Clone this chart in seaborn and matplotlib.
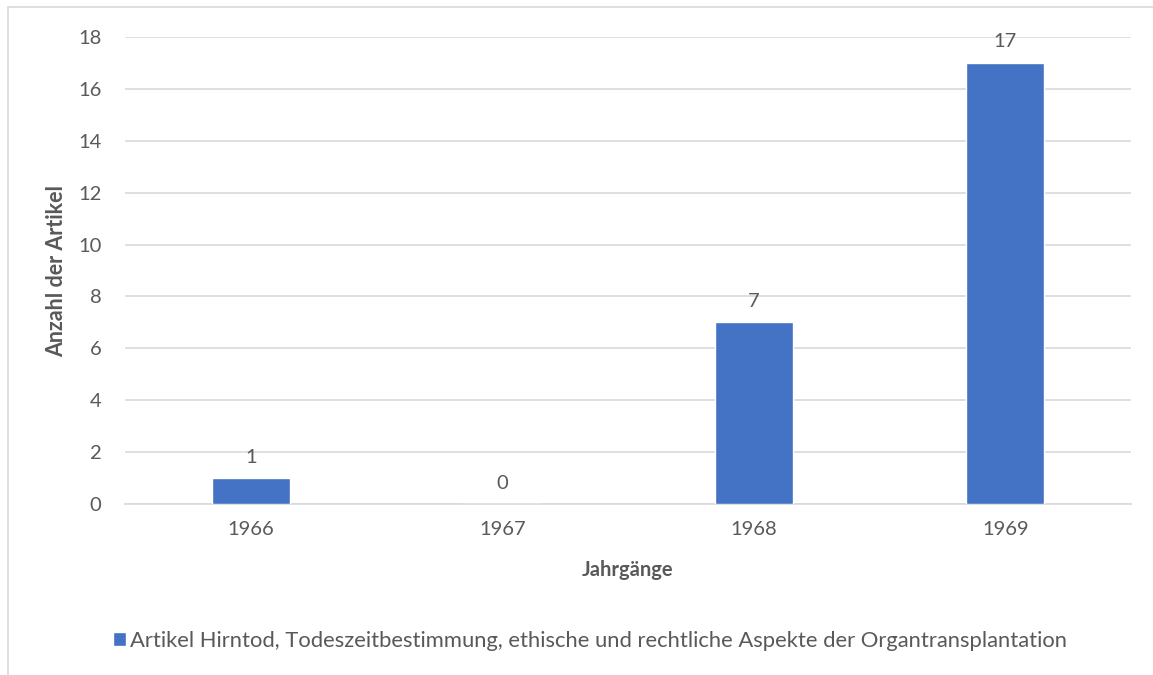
import matplotlib
matplotlib.use("Agg")
import matplotlib.pyplot as plt
import seaborn as sns
import pandas as pd
from matplotlib.patches import Rectangle

# Data
jahre = ["1966", "1967", "1968", "1969"]
anzahl = [1, 0, 7, 17]
serie = "Artikel Hirntod, Todeszeitbestimmung, ethische und rechtliche Aspekte der Organtransplantation"

BAR_COLOR = "#4472C4"
TEXT_COLOR = "#595959"
GRID_COLOR = "#D9D9D9"
FS = 14.5

sns.set_style("white")
plt.rcParams['font.family'] = ['Lato', 'DejaVu Sans']

df = pd.DataFrame({"Jahrgang": jahre, "Anzahl": anzahl})

fig = plt.figure(figsize=(11.53, 6.75), dpi=100)
ax = fig.add_axes([0.1084, 0.2533, 0.8725, 0.6919])

sns.barplot(data=df, x="Jahrgang", y="Anzahl", color=BAR_COLOR,
            width=0.31, saturation=1, ax=ax, label=serie, zorder=3)

ax.set_ylim(0, 18)
ax.set_yticks(range(0, 19, 2))
ax.grid(axis="y", color=GRID_COLOR, linewidth=1.2, zorder=0)
for s in ["top", "right", "left"]:
    ax.spines[s].set_visible(False)
ax.spines["bottom"].set_color(GRID_COLOR)
ax.spines["bottom"].set_linewidth(1.2)
ax.tick_params(axis="both", length=0, labelsize=FS, colors=TEXT_COLOR)
ax.tick_params(axis="x", pad=12)
ax.tick_params(axis="y", pad=17)

ax.set_xlabel("Jahrgänge", fontsize=FS, fontweight="bold", color=TEXT_COLOR, labelpad=16)
ax.set_ylabel("Anzahl der Artikel", fontsize=15.5, fontweight="bold", color=TEXT_COLOR, labelpad=8)

ax.bar_label(ax.containers[0], labels=[str(v) for v in anzahl],
             padding=9, fontsize=FS, color=TEXT_COLOR)

ax.legend(loc="center", bbox_to_anchor=(590 / 1153, 1 - 641 / 675),
          bbox_transform=fig.transFigure, frameon=False,
          fontsize=15.8, labelcolor=TEXT_COLOR, handlelength=0.6,
          handleheight=0.6, handletextpad=0.2)

# light chart border
fig.patches.append(Rectangle((8 / 1153, -0.1), 1.2, 1 - 7 / 675 + 0.1,
                             transform=fig.transFigure, fill=False,
                             edgecolor=GRID_COLOR, linewidth=1.2))

fig.savefig("out.png", dpi=100)
